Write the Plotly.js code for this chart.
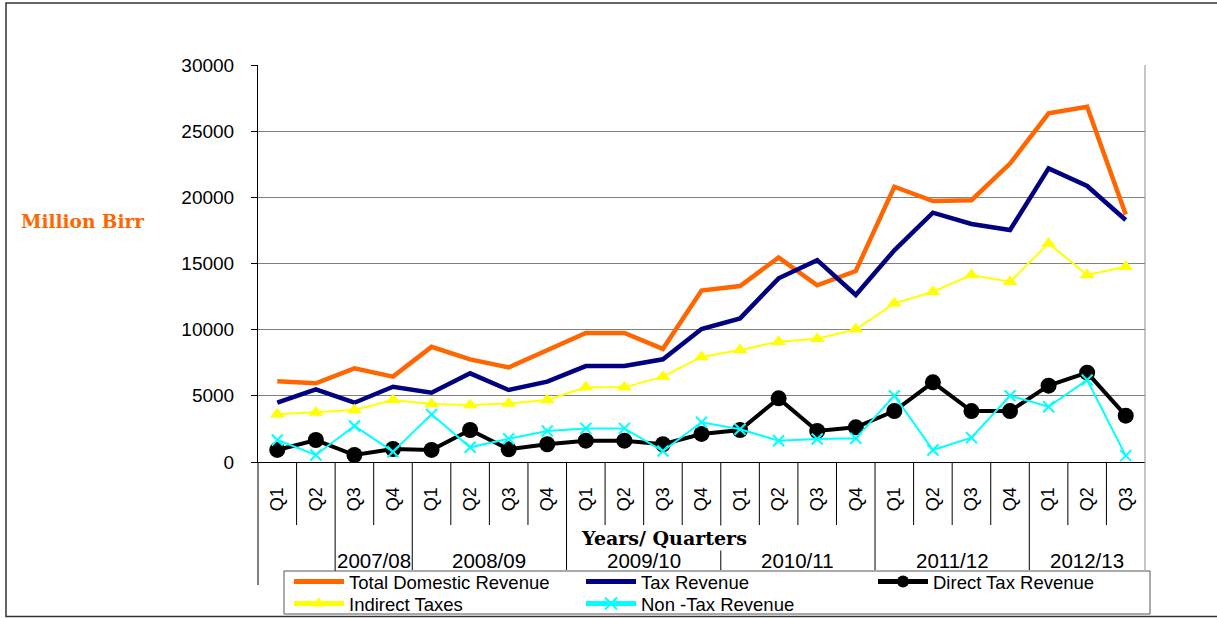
<!DOCTYPE html>
<html>
<head>
<meta charset="utf-8">
<script src="https://cdn.plot.ly/plotly-3.0.1.min.js"></script>
<style>
  html, body { margin: 0; padding: 0; background: #ffffff; }
  #chart { width: 1217px; height: 618px; }
</style>
</head>
<body>
<div id="chart"></div>
<script>
// ---- data ----
const years = ['2007/08', '2008/09', '2009/10', '2010/11', '2011/12', '2012/13'];
const quartersPerYear = [
  ['Q1', 'Q2', 'Q3', 'Q4'],
  ['Q1', 'Q2', 'Q3', 'Q4'],
  ['Q1', 'Q2', 'Q3', 'Q4'],
  ['Q1', 'Q2', 'Q3', 'Q4'],
  ['Q1', 'Q2', 'Q3', 'Q4'],
  ['Q1', 'Q2', 'Q3']
];
const totalDomesticRevenue = [6100, 5950, 7080, 6450, 8700, 7750, 7150, 8450, 9750, 9750, 8550, 12950,
  13300, 15450, 13350, 14430, 20800, 19720, 19780, 22550, 26350, 26850, 18700];
const taxRevenue = [4480, 5480, 4480, 5690, 5240, 6700, 5440, 6070, 7250, 7250, 7760, 10050,
  10850, 13880, 15250, 12620, 16000, 18840, 17990, 17530, 22190, 20860, 18290];
const directTaxRevenue = [910, 1660, 530, 980, 910, 2420, 960, 1340, 1610, 1610, 1340, 2120,
  2420, 4810, 2340, 2620, 3850, 6020, 3850, 3850, 5770, 6750, 3500];
const indirectTaxes = [3600, 3750, 3930, 4690, 4380, 4310, 4430, 4690, 5640, 5640, 6450, 7940,
  8460, 9090, 9320, 10030, 11990, 12870, 14130, 13630, 16520, 14130, 14760];
const nonTaxRevenue = [1660, 530, 2720, 780, 3600, 1110, 1760, 2340, 2540, 2540, 830, 3000,
  2470, 1610, 1740, 1790, 5010, 910, 1840, 5010, 4180, 6200, 480];

// ---- build categories ----
const catIds = [];
const catText = [];
const groups = [];
years.forEach(function (y, gi) {
  const start = catIds.length;
  quartersPerYear[gi].forEach(function (q) {
    catIds.push(y + ' ' + q);
    catText.push(q);
  });
  groups.push({ year: y, start: start, count: quartersPerYear[gi].length });
});
const nCat = catIds.length;

// ---- layout geometry (pixels) ----
const W = 1217, H = 618;
const L = 258, R = 1145, T = 65, B = 462;
const pw = R - L, ph = B - T;
function px2x(p) { return (p - L) / pw; }
function py2y(p) { return (B - p) / ph; }

const FONT = 'Liberation Sans, Arial, Helvetica, sans-serif';
const SERIF = 'DejaVu Serif, serif';

// ---- traces ----
const traces = [
  { name: 'Total Domestic Revenue', legend: 'legend', x: catIds, y: totalDomesticRevenue, type: 'scatter', mode: 'lines',
    line: { color: '#FF6600', width: 4.5 } },
  { name: 'Tax Revenue', legend: 'legend', x: catIds, y: taxRevenue, type: 'scatter', mode: 'lines',
    line: { color: '#000080', width: 4.5 } },
  { name: 'Direct Tax Revenue', legend: 'legend', x: catIds, y: directTaxRevenue, type: 'scatter', mode: 'lines+markers',
    line: { color: '#000000', width: 4 },
    marker: { symbol: 'circle', size: 16, color: '#000000' } },
  { name: 'Indirect Taxes', legend: 'legend2', x: catIds, y: indirectTaxes, type: 'scatter', mode: 'lines+markers',
    line: { color: '#FFFF00', width: 2 },
    marker: { symbol: 'triangle-up', size: 13, color: '#FFFF00', line: { width: 0 } } },
  { name: 'Non -Tax Revenue', legend: 'legend2', x: catIds, y: nonTaxRevenue, type: 'scatter', mode: 'lines+markers',
    line: { color: '#00FFFF', width: 2 },
    marker: { symbol: 'x-thin', size: 11, color: '#00FFFF', line: { color: '#00FFFF', width: 2 } } }
];

// ---- shapes: separators, legend box and frame ----
const shapes = [];
const qBottom = py2y(525);
const yearBottom = py2y(570);
const yearBoundaries = groups.map(function (g) { return g.start; });
for (let k = 0; k <= nCat; k++) {
  const xp = k / nCat;
  let y1 = qBottom;
  let color = '#000000';
  let y0 = 0;
  if (k === 0) y1 = py2y(585);
  else if (k === 2) y1 = py2y(575);
  else if (yearBoundaries.indexOf(k) >= 0) y1 = yearBottom;
  if (k === nCat) { y1 = yearBottom; y0 = 1; color = '#8c8c8c'; }
  shapes.push({ type: 'line', xref: 'paper', yref: 'paper', x0: xp, x1: xp, y0: y0, y1: y1,
    line: { color: color, width: 1 } });
}
// legend box
shapes.push({ type: 'rect', xref: 'paper', yref: 'paper',
  x0: px2x(284), x1: px2x(1150), y0: py2y(571), y1: py2y(614),
  line: { color: '#555555', width: 1 }, fillcolor: '#ffffff' });
// outer chart frame
shapes.push({ type: 'rect', xref: 'paper', yref: 'paper',
  x0: px2x(6), x1: px2x(1230), y0: py2y(3), y1: py2y(616.5),
  line: { color: '#333333', width: 1.5 }, fillcolor: 'rgba(0,0,0,0)' });

// ---- annotations ----
const annotations = [];
annotations.push({ text: '<b>Million Birr</b>', xref: 'paper', yref: 'paper',
  x: px2x(82), y: py2y(221), showarrow: false, xanchor: 'center', yanchor: 'middle',
  font: { family: SERIF, size: 18.5, color: '#FF6600' } });
annotations.push({ text: '<b>Years/ Quarters</b>', xref: 'paper', yref: 'paper',
  x: px2x(664), y: py2y(538), showarrow: false, xanchor: 'center', yanchor: 'middle',
  bgcolor: '#ffffff', borderpad: 1,
  font: { family: SERIF, size: 19, color: '#000000' } });
groups.forEach(function (g, gi) {
  // first year label is drawn over its last two cells, as in the original
  const s = gi === 0 ? g.start + 2 : g.start;
  const e = g.start + g.count - 1;
  annotations.push({ text: g.year, xref: 'x', yref: 'paper', x: (s + e) / 2, y: py2y(560),
    showarrow: false, xanchor: 'center', yanchor: 'middle',
    font: { family: FONT, size: 20.5, color: '#000000' } });
});

function legendDef(rowCenterPx) {
  return {
    orientation: 'h', x: px2x(289), y: py2y(rowCenterPx), xanchor: 'left', yanchor: 'middle',
    bgcolor: 'rgba(0,0,0,0)', borderwidth: 0,
    font: { family: FONT, size: 18.5, color: '#000000' },
    itemwidth: 50, entrywidth: 227, entrywidthmode: 'pixels',
    traceorder: 'normal', itemsizing: 'constant'
  };
}

const layout = {
  width: W, height: H,
  margin: { l: L, r: W - R, t: T, b: H - B, pad: 0, autoexpand: false },
  paper_bgcolor: '#ffffff', plot_bgcolor: '#ffffff',
  font: { family: FONT, color: '#000000' },
  showlegend: true,
  legend: legendDef(582),
  legend2: legendDef(604),
  xaxis: {
    type: 'category', categoryorder: 'array', categoryarray: catIds,
    range: [-0.5, nCat - 0.5], tickvals: catIds, ticktext: catText,
    tickangle: -90, ticks: '', ticklabelstandoff: 17,
    tickfont: { family: FONT, size: 18, color: '#000000' },
    showline: true, linecolor: '#000000', linewidth: 1,
    showgrid: false, zeroline: false, fixedrange: true
  },
  yaxis: {
    range: [0, 30000], dtick: 5000, tick0: 0,
    ticks: 'outside', ticklen: 6, tickcolor: '#000000', tickwidth: 1,
    ticklabelstandoff: 13,
    tickfont: { family: FONT, size: 19, color: '#000000' },
    showline: true, linecolor: '#000000', linewidth: 1,
    showgrid: true, gridcolor: '#808080', gridwidth: 1,
    zeroline: false, fixedrange: true, tickformat: 'd'
  },
  shapes: shapes,
  annotations: annotations
};

Plotly.newPlot('chart', traces, layout, { displayModeBar: false, staticPlot: true });
</script>
</body>
</html>
